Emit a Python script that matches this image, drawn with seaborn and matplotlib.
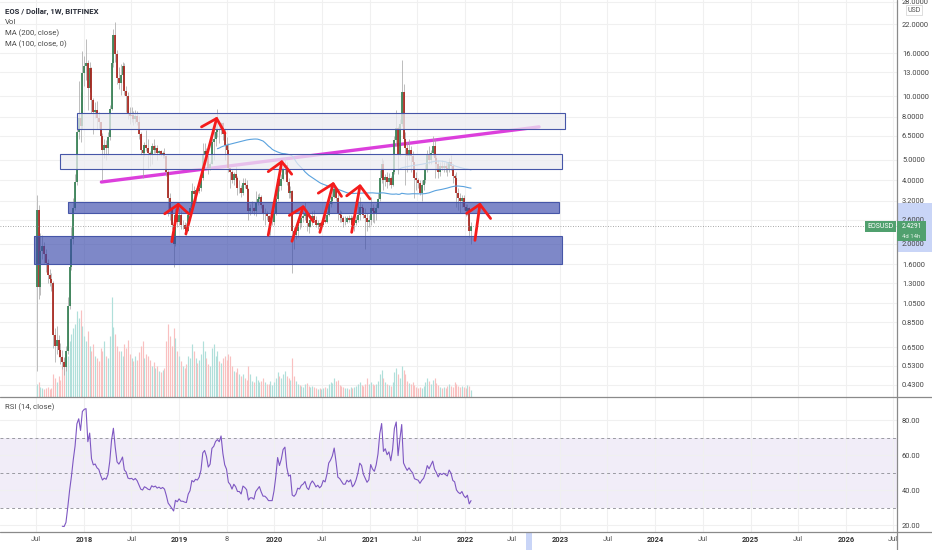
import numpy as np
import pandas as pd
import matplotlib
matplotlib.use("Agg")
import matplotlib.pyplot as plt
import matplotlib.dates as mdates
from matplotlib.patches import Rectangle
from matplotlib.lines import Line2D
from matplotlib.transforms import blended_transform_factory
import seaborn as sns

# ---- weekly EOS/USD candles (week of 2017-07-03 onwards)
first_week = "2017-07-03"
first_open = 1.25

close_2017 = [2.90, 1.25, 1.85, 1.95, 1.80, 1.62, 1.42, 1.36, 1.30, 0.74, 0.66, 0.70, 0.63,
              0.58, 0.55, 0.52, 0.62, 1.02, 1.55, 2.10, 2.95, 3.95, 6.80, 7.90, 7.20, 12.9]
high_2017 = [3.40, 3.05, 2.25, 2.20, 2.05, 1.90, 1.70, 1.52, 1.45, 1.34, 0.80, 0.82, 0.74,
             0.68, 0.63, 0.58, 0.66, 1.12, 1.80, 2.40, 3.30, 4.30, 7.30, 11.8, 10.5, 16.4]
low_2017 = [0.50, 1.10, 1.15, 1.70, 1.62, 1.48, 1.30, 1.26, 1.20, 0.64, 0.55, 0.60, 0.58,
            0.54, 0.51, 0.48, 0.50, 0.60, 0.98, 1.50, 2.00, 2.90, 3.80, 6.30, 6.10, 7.00]
vol_2017 = [12, 14, 9, 8, 7, 8, 9, 7, 8, 22, 18, 14, 20,
            16, 30, 38, 45, 40, 55, 62, 68, 72, 85, 78, 86, 70]

close_2018 = [14.0, 14.4, 11.0, 13.6, 9.6, 8.4, 8.6, 7.9, 7.6, 6.5, 5.6, 5.9, 5.7,
              6.4, 8.7, 14.4, 19.5, 15.8, 12.2, 11.6, 12.6, 13.9, 10.6, 10.0, 8.3, 8.1,
              8.2, 7.8, 8.1, 7.6, 6.6, 5.6, 5.4, 5.9, 5.7, 5.4, 5.3, 5.8, 5.6,
              5.7, 5.4, 5.5, 5.3, 5.4, 5.2, 4.4, 3.3, 2.9, 2.45, 2.0, 2.75, 2.55]
high_2018 = [15.6, 18.6, 14.8, 14.5, 13.8, 9.8, 9.4, 9.5, 8.4, 7.6, 6.7, 6.3, 6.2,
             6.8, 9.1, 15.0, 20.8, 22.5, 16.6, 13.8, 14.2, 14.6, 14.4, 11.2, 10.5, 8.9,
             8.9, 8.5, 8.6, 8.5, 8.1, 6.8, 5.9, 6.1, 6.9, 6.3, 5.5, 6.0, 6.3,
             5.9, 5.9, 5.6, 5.6, 5.5, 5.7, 5.3, 4.5, 3.5, 3.0, 2.5, 2.95, 3.0]
low_2018 = [11.2, 12.0, 8.6, 10.5, 8.3, 6.6, 7.9, 7.0, 7.1, 5.8, 4.0, 5.1, 5.0,
            5.3, 6.2, 8.6, 13.8, 14.6, 11.5, 10.8, 10.2, 11.6, 10.1, 8.4, 7.8, 7.4,
            7.6, 7.3, 7.5, 7.3, 6.3, 5.3, 4.1, 5.2, 5.5, 4.6, 4.7, 4.8, 5.4,
            5.4, 5.0, 5.3, 5.2, 5.1, 5.1, 4.2, 2.7, 2.6, 2.35, 1.55, 1.95, 2.4]
vol_2018 = [60, 55, 65, 50, 45, 52, 40, 38, 35, 48, 45, 55, 40,
            38, 60, 99, 69, 62, 50, 45, 45, 40, 52, 48, 56, 42,
            38, 35, 40, 36, 44, 50, 55, 38, 42, 40, 36, 30, 34,
            28, 30, 25, 24, 26, 28, 55, 72, 60, 50, 68, 58, 45]

close_2019 = [2.75, 2.45, 2.45, 2.35, 2.30, 2.75, 2.95, 3.55, 3.45, 3.60, 3.55, 3.70, 4.10,
              5.3, 5.5, 5.2, 4.6, 4.8, 6.1, 6.3, 6.8, 7.0, 6.9, 7.5, 6.6, 5.9,
              5.6, 4.6, 4.4, 4.0, 4.3, 4.1, 3.7, 3.7, 3.5, 3.9, 3.8, 3.65, 2.85,
              2.95, 2.95, 2.85, 3.15, 3.25, 3.35, 3.05, 2.80, 2.80, 2.70, 2.55, 2.55, 2.55]
high_2019 = [2.95, 2.85, 2.60, 2.55, 2.50, 2.85, 3.05, 3.90, 3.75, 3.70, 3.75, 3.85, 4.30,
             6.0, 6.0, 5.7, 5.3, 4.9, 6.5, 7.3, 7.2, 8.7, 7.4, 7.6, 7.6, 7.1,
             6.4, 6.0, 4.6, 4.5, 4.4, 4.7, 4.2, 4.0, 3.8, 4.1, 4.1, 4.0, 3.7,
             3.1, 3.2, 3.0, 3.55, 3.45, 3.5, 3.4, 3.1, 2.95, 2.85, 2.75, 2.65, 2.75]
low_2019 = [2.45, 2.35, 2.35, 2.30, 2.20, 2.30, 2.60, 2.90, 3.30, 3.15, 3.45, 3.50, 3.55,
            4.0, 5.1, 5.0, 4.3, 4.5, 4.8, 5.0, 5.8, 6.4, 6.0, 6.6, 6.2, 5.0,
            5.2, 4.4, 3.7, 3.9, 3.8, 4.0, 3.4, 3.5, 3.35, 3.4, 3.7, 3.55, 2.6,
            2.75, 2.8, 2.75, 2.7, 3.05, 3.15, 2.95, 2.6, 2.45, 2.6, 2.45, 2.2, 2.45]
vol_2019 = [40, 35, 30, 28, 32, 40, 38, 52, 45, 38, 33, 36, 42,
            55, 45, 38, 32, 30, 48, 52, 40, 45, 35, 33, 38, 40,
            36, 42, 40, 30, 25, 24, 28, 22, 20, 22, 18, 16, 30,
            22, 15, 14, 20, 16, 14, 15, 18, 14, 12, 12, 15, 11]

close_2020 = [2.80, 3.25, 4.05, 3.75, 4.05, 4.60, 4.75, 3.95, 3.50, 3.55, 2.30, 2.20, 2.30,
              2.55, 2.50, 2.65, 2.70, 2.80, 2.50, 2.40, 2.60, 2.70, 2.60, 2.45, 2.50, 2.40,
              2.45, 2.60, 2.55, 2.75, 3.10, 3.20, 3.35, 3.65, 3.30, 2.80, 2.75, 2.65, 2.55,
              2.55, 2.65, 2.60, 2.65, 2.45, 2.50, 2.60, 2.75, 3.00, 2.95, 2.75, 2.65, 2.55, 2.60]
high_2020 = [2.90, 3.35, 4.25, 4.15, 4.30, 4.70, 5.15, 4.90, 4.10, 3.75, 3.60, 2.40, 2.45,
             2.65, 2.75, 2.70, 2.85, 3.15, 2.90, 2.60, 2.70, 2.85, 2.90, 2.70, 2.60, 2.55,
             2.55, 2.65, 2.70, 2.85, 3.30, 3.40, 3.65, 3.90, 3.70, 3.45, 2.90, 2.85, 2.70,
             2.70, 2.70, 2.75, 2.75, 2.70, 2.55, 2.70, 3.20, 3.35, 3.10, 3.00, 2.95, 2.80, 2.75]
low_2020 = [2.45, 2.75, 3.20, 3.55, 3.60, 4.00, 4.30, 3.80, 3.30, 3.30, 1.45, 1.90, 2.10,
            2.15, 2.35, 2.40, 2.55, 2.60, 2.30, 2.25, 2.40, 2.45, 2.55, 2.40, 2.35, 2.35,
            2.35, 2.45, 2.50, 2.50, 2.70, 3.00, 3.10, 3.30, 3.20, 2.60, 2.55, 2.55, 2.40,
            2.45, 2.50, 2.55, 2.50, 2.35, 2.30, 2.45, 2.55, 2.60, 2.80, 2.65, 1.90, 2.30, 2.40]
vol_2020 = [14, 18, 24, 20, 18, 22, 25, 20, 18, 16, 38, 20, 15,
            12, 11, 10, 9, 12, 13, 10, 9, 10, 9, 8, 7, 8,
            7, 8, 9, 8, 12, 14, 13, 18, 15, 16, 11, 10, 9,
            8, 8, 7, 9, 8, 9, 10, 12, 14, 11, 10, 12, 18, 12]

close_2021 = [2.95, 2.85, 2.80, 2.95, 3.25, 4.10, 4.80, 4.00, 4.15, 3.95, 4.10, 3.80, 4.40,
              6.2, 7.1, 5.3, 7.4, 10.5, 6.3, 5.7, 5.2, 5.6, 5.2, 4.9, 4.1, 4.0,
              3.9, 3.5, 3.8, 4.0, 4.5, 5.3, 5.0, 5.4, 5.8, 5.1, 4.8, 4.4, 4.7,
              4.6, 4.7, 4.6, 4.5, 4.9, 4.7, 4.2, 4.1, 3.5, 3.3, 3.2, 3.3, 3.0,
              2.85, 2.95, 2.30, 2.4291]
high_2021 = [3.35, 3.10, 3.00, 3.10, 3.50, 4.50, 5.10, 5.00, 4.30, 4.40, 4.35, 4.20, 4.80,
             6.5, 8.6, 7.2, 7.8, 14.8, 11.5, 6.8, 6.1, 6.3, 5.8, 5.5, 4.9, 4.4,
             4.1, 4.0, 4.0, 4.3, 4.8, 5.6, 5.8, 5.6, 6.5, 6.3, 5.3, 5.0, 4.9,
             5.0, 4.9, 4.9, 4.9, 5.1, 5.3, 4.8, 4.3, 4.4, 3.7, 3.5, 3.4, 3.4,
             3.1, 3.1, 3.0, 2.55]
low_2021 = [2.45, 2.55, 2.50, 2.60, 2.95, 3.20, 3.90, 3.60, 3.75, 3.70, 3.80, 3.70, 3.75,
            4.3, 5.8, 4.3, 5.2, 7.2, 6.0, 3.8, 4.4, 5.0, 4.4, 4.6, 3.3, 3.6,
            3.7, 3.4, 3.2, 3.6, 3.9, 4.4, 4.8, 4.8, 5.2, 4.1, 4.5, 4.1, 4.2,
            4.5, 4.4, 4.4, 4.2, 4.4, 4.5, 3.9, 3.9, 3.0, 2.9, 2.8, 3.0, 2.9,
            2.7, 2.75, 2.15, 2.0]
vol_2021 = [14, 12, 11, 12, 15, 22, 26, 18, 14, 12, 11, 10, 14,
            24, 28, 22, 18, 30, 26, 22, 15, 13, 12, 14, 11, 9,
            8, 9, 8, 10, 14, 18, 15, 12, 16, 18, 13, 11, 9,
            8, 9, 8, 10, 12, 10, 9, 14, 12, 10, 9, 10, 9,
            8, 11, 10, 6]

last_price = 2.4291

# ---- drawings on the chart
zone_start = ["2017-12-03", "2017-09-30", "2017-10-30", "2017-06-23"]
zone_end = ["2023-01-19", "2023-01-07", "2022-12-29", "2023-01-07"]
zone_low = [7.04, 4.55, 2.79, 1.60]
zone_high = [8.30, 5.32, 3.16, 2.18]
zone_kind = ["light", "light", "dark", "dark"]

trend_dates = ["2018-03-08", "2022-10-12"]
trend_prices = [3.93, 7.17]

arrow_tail_dates = ["2018-12-03", "2019-01-26", "2019-12-08", "2020-03-08", "2020-06-23", "2020-10-23", "2022-02-08"]
arrow_tail_prices = [2.05, 2.23, 2.20, 2.06, 2.27, 2.27, 2.08]
arrow_tip_dates = ["2018-12-28", "2019-05-24", "2020-01-29", "2020-04-20", "2020-08-13", "2020-11-24", "2022-02-27"]
arrow_tip_prices = [3.08, 7.86, 4.90, 3.00, 3.86, 3.77, 3.08]
head_left_dates = ["2018-11-06", "2019-03-27", "2019-12-08", "2020-02-27", "2020-06-17", "2020-10-04", "2022-01-07"]
head_left_prices = [2.78, 7.17, 4.40, 2.73, 3.48, 3.38, 2.79]
head_right_dates = ["2019-02-06", "2019-06-25", "2020-03-07", "2020-05-29", "2020-09-14", "2021-01-01", "2022-04-09"]
head_right_prices = [2.78, 6.69, 4.28, 2.55, 3.36, 3.27, 2.64]

# ---- axis ticks
price_ticks = [28, 22, 16, 13, 10, 8, 6.5, 5, 4, 3.2, 2.6, 2.0, 1.6, 1.3, 1.05, 0.85, 0.65, 0.53, 0.43]
rsi_ticks = [20, 40, 60, 80]
time_tick_dates = ["2017-07-01", "2018-01-01", "2018-07-01", "2019-01-01", "2019-07-01", "2020-01-01",
                   "2020-07-01", "2021-01-01", "2021-07-01", "2022-01-01", "2022-07-01", "2023-01-01",
                   "2023-07-01", "2024-01-01", "2024-07-01", "2025-01-01", "2025-07-01", "2026-01-01",
                   "2026-07-01"]
time_tick_labels = ["Jul", "2018", "Jul", "2019", "8", "2020", "Jul", "2021", "Jul", "2022", "Jul",
                    "2023", "Jul", "2024", "Jul", "2025", "Jul", "2026", "Jul"]

# ---- assemble
close = close_2017 + close_2018 + close_2019 + close_2020 + close_2021
high = high_2017 + high_2018 + high_2019 + high_2020 + high_2021
low = low_2017 + low_2018 + low_2019 + low_2020 + low_2021
volume = vol_2017 + vol_2018 + vol_2019 + vol_2020 + vol_2021

df = pd.DataFrame({
    "date": pd.date_range(first_week, periods=len(close), freq="7D"),
    "open": [first_open] + close[:-1],
    "high": high,
    "low": low,
    "close": close,
    "volume": volume,
})
df["ma200"] = df["close"].rolling(200).mean()
df["ma100"] = df["close"].rolling(100).mean()


def rma(values, n):
    out = np.full(len(values), np.nan)
    out[n] = np.mean(values[1:n + 1])
    for i in range(n + 1, len(values)):
        out[i] = (out[i - 1] * (n - 1) + values[i]) / n
    return out


delta = df["close"].diff().fillna(0).to_numpy()
avg_gain = rma(np.clip(delta, 0, None), 14)
avg_loss = rma(np.clip(-delta, 0, None), 14)
df["rsi"] = 100 - 100 / (1 + avg_gain / avg_loss)

x = mdates.date2num(df["date"])
up = df["close"] >= df["open"]

# ---- figure
sns.set_style("white")
plt.rcParams["font.family"] = ["Roboto", "DejaVu Sans"]

W, H = 932, 550
fig = plt.figure(figsize=(W / 100, H / 100), dpi=100)
ax = fig.add_axes([0, 1 - 396.5 / H, 897 / W, 396.5 / H])
ax_rsi = fig.add_axes([0, 1 - 531.7 / H, 897 / W, (531.7 - 397) / H], sharex=ax)

ax.set_yscale("log")
ax.set_xlim(mdates.datestr2num("2017-02-12"), mdates.datestr2num("2026-07-16"))
ax.set_ylim(0.379, 28.6)

# volume, anchored to the pane bottom
vol_trans = blended_transform_factory(ax.transData, ax.transAxes)
vol_frac = df["volume"] / df["volume"].max() * 0.25
ax.vlines(x, 0, vol_frac, transform=vol_trans,
          colors=np.where(up, "#b0dfda", "#f9c0c0"), lw=0.85, zorder=1)

# trend line
ax.plot(mdates.datestr2num(trend_dates), trend_prices, color="#dc3fdc", lw=2.4,
        solid_capstyle="round", zorder=2)

# candles
ax.vlines(x, df["low"], df["high"], colors="#a3a3a3", lw=0.5, zorder=3)
ax.vlines(x, df["open"], df["close"], colors=np.where(up, "#337f52", "#a8231b"), lw=1.25, zorder=3.1)

# moving averages
sns.lineplot(data=df, x="date", y="ma100", ax=ax, color="#5aa2de", lw=0.8, zorder=4)
sns.lineplot(data=df, x="date", y="ma200", ax=ax, color="#5aa2de", lw=0.8, zorder=4)

# zones
for s, e, lo, hi, kind in zip(zone_start, zone_end, zone_low, zone_high, zone_kind):
    x0, x1 = mdates.datestr2num(s), mdates.datestr2num(e)
    if kind == "light":
        fc, a = "#ececf1", 0.75
    else:
        fc, a = "#3949ab", 0.65
    ax.add_patch(Rectangle((x0, lo), x1 - x0, hi - lo, facecolor=fc, alpha=a,
                           edgecolor="none", zorder=5))
    ax.add_patch(Rectangle((x0, lo), x1 - x0, hi - lo, facecolor="none",
                           edgecolor="#4656a8", lw=0.8, zorder=5.1))

# hand drawn arrows
for i in range(len(arrow_tip_dates)):
    ax.plot(mdates.datestr2num([arrow_tail_dates[i], arrow_tip_dates[i]]),
            [arrow_tail_prices[i], arrow_tip_prices[i]],
            color="#f41c1c", lw=2.0, solid_capstyle="round", zorder=6)
    ax.plot(mdates.datestr2num([head_left_dates[i], arrow_tip_dates[i], head_right_dates[i]]),
            [head_left_prices[i], arrow_tip_prices[i], head_right_prices[i]],
            color="#f41c1c", lw=2.0, solid_capstyle="round", solid_joinstyle="round", zorder=6)

# last price line
ax.axhline(last_price, color="#8c8c8c", lw=0.6, ls=(0, (1, 2)), zorder=7)

# RSI pane
ax_rsi.axhspan(30, 70, color="#7e57c2", alpha=0.1, lw=0, zorder=0.5)
for lvl in (70, 50, 30):
    ax_rsi.axhline(lvl, color="#9a9aa2", lw=0.7, ls=(0, (3, 3)), zorder=1)
sns.lineplot(data=df, x="date", y="rsi", ax=ax_rsi, color="#7e57c2", lw=0.8, zorder=3)
ax_rsi.set_ylim(16.2, 93.3)

# axes cosmetics
for a in (ax, ax_rsi):
    a.set_xlabel("")
    a.set_ylabel("")
    for sp in a.spines.values():
        sp.set_visible(False)
    a.yaxis.tick_right()
    a.set_axisbelow(True)
    a.grid(True, color="#f0f0f0", lw=0.8)
    a.tick_params(axis="y", length=0, pad=3.6, labelsize=5.4, labelcolor="#444444")

ax.yaxis.set_minor_locator(matplotlib.ticker.NullLocator())
ax.set_yticks(price_ticks)
ax.set_yticklabels([f"{p:.4f}" for p in price_ticks])
ax_rsi.set_yticks(rsi_ticks)
ax_rsi.set_yticklabels([f"{v:.2f}" for v in rsi_ticks])

ax_rsi.set_xticks(mdates.datestr2num(time_tick_dates))
ax_rsi.set_xticklabels(time_tick_labels)
ax.tick_params(axis="x", labelbottom=False, length=0)
ax_rsi.tick_params(axis="x", length=0, pad=3.2, labelsize=5.4, labelcolor="#555555")
for lab in ax_rsi.get_xticklabels():
    if lab.get_text().isdigit() and len(lab.get_text()) == 4:
        lab.set_fontweight("bold")
        lab.set_color("#333333")

# pane separators and price scale border
for yy in (396.7, 531.7):
    fig.add_artist(Line2D([0, 1], [1 - yy / H] * 2, color="#8a8a8a", lw=0.9))
fig.add_artist(Line2D([897 / W] * 2, [0, 1], color="#8a8a8a", lw=0.9))

# crosshair highlights on the scales
fig.add_artist(Rectangle((897 / W, 1 - 252 / H), 35 / W, 49 / H, transform=fig.transFigure,
                         facecolor="#c9d5f7", edgecolor="none", zorder=-1))
fig.add_artist(Rectangle((526 / W, 0), 6 / W, 18.3 / H, transform=fig.transFigure,
                         facecolor="#c9d5f7", edgecolor="none", zorder=-1))

# legend texts
fig.text(5 / W, 1 - 11 / H, "EOS / Dollar, 1W, BITFINEX", fontsize=5.6, fontweight="bold",
         color="#2a2e39", va="center")
for yy, t in zip((22, 33.3, 44.3), ("Vol", "MA (200, close)", "MA (100, close, 0)")):
    fig.text(5 / W, 1 - yy / H, t, fontsize=5.6, color="#4a4a4a", va="center")
fig.text(5 / W, 1 - 407.3 / H, "RSI (14, close)", fontsize=5.6, color="#4a4a4a", va="center")
fig.text(914 / W, 1 - 10 / H, "USD", fontsize=5, color="#555555", ha="center", va="center",
         bbox=dict(boxstyle="square,pad=0.25", fc="white", ec="#d0d0d0", lw=0.5))

# last price tags
tag_green = "#50a06e"
fig.text(880.5 / W, 1 - 226.2 / H, "EOSUSD", fontsize=5, color="white", ha="center", va="center",
         bbox=dict(boxstyle="square,pad=0.3", fc=tag_green, ec="none"))
fig.add_artist(Rectangle((897 / W, 1 - 240.5 / H), 29 / W, 19.8 / H, transform=fig.transFigure,
                         facecolor=tag_green, edgecolor="none", zorder=2))
fig.text(911.5 / W, 1 - 226.6 / H, f"{last_price:.4f}", fontsize=4.8, color="white",
         ha="center", va="center", zorder=3)
fig.text(911.5 / W, 1 - 236 / H, "4d 14h", fontsize=4.3, color="#e6f2ea",
         ha="center", va="center", zorder=3)

fig.savefig("out.png", dpi=100)
